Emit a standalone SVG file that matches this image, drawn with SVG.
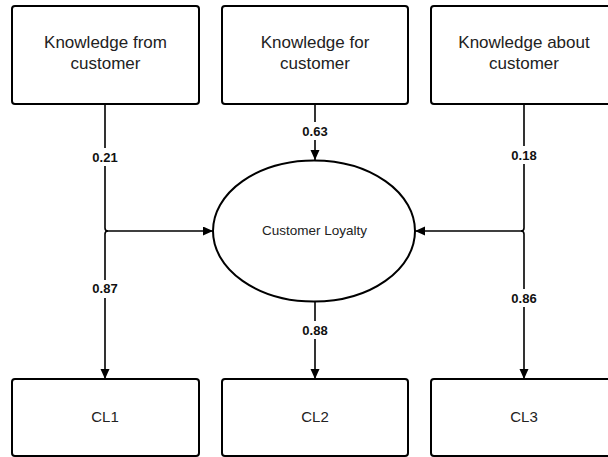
<svg xmlns="http://www.w3.org/2000/svg" width="608" height="457" viewBox="0 0 608 457">
  <style>
    .box { fill: #ffffff; stroke: #000000; stroke-width: 2; }
    .wire { fill: none; stroke: #000000; stroke-width: 1.6; }
    .title { font-family: "Liberation Sans", Arial, sans-serif; font-size: 17px; fill: #222222; text-anchor: middle; }
    .cl { font-family: "Liberation Sans", Arial, sans-serif; font-size: 15px; fill: #222222; text-anchor: middle; }
    .inner { font-family: "Liberation Sans", Arial, sans-serif; font-size: 13.5px; fill: #222222; text-anchor: middle; }
    .weight { font-family: "Liberation Sans", Arial, sans-serif; font-size: 13px; font-weight: bold; fill: #111111; text-anchor: middle; }
    .pad { fill: #ffffff; }
  </style>
  <defs>
    <marker id="arrow" markerUnits="userSpaceOnUse" markerWidth="11" markerHeight="10" refX="10" refY="4.5" orient="auto">
      <path d="M0,0 L10,4.5 L0,9 Z" fill="#000000"/>
    </marker>
  </defs>

  <rect width="608" height="457" fill="#ffffff"/>

  <!-- connectors -->
  <g id="connectors">
    <!-- left source: to ellipse and to CL1 -->
    <path class="wire" d="M105,104 V228 Q105,231 108,231 H213" marker-end="url(#arrow)"/>
    <path class="wire" d="M108,231 Q105,231 105,234 V379" marker-end="url(#arrow)"/>
    <!-- middle source to ellipse -->
    <path class="wire" d="M315,104 V160" marker-end="url(#arrow)"/>
    <!-- ellipse to CL2 -->
    <path class="wire" d="M315,302 V379" marker-end="url(#arrow)"/>
    <!-- right source: to ellipse and to CL3 -->
    <path class="wire" d="M524,104 V228 Q524,231 521,231 H415" marker-end="url(#arrow)"/>
    <path class="wire" d="M521,231 Q524,231 524,234 V379" marker-end="url(#arrow)"/>

    <!-- path weights -->
    <rect class="pad" x="90" y="148" width="30" height="18"/>
    <text class="weight" x="105" y="161.5">0.21</text>
    <rect class="pad" x="90" y="280" width="30" height="18"/>
    <text class="weight" x="105" y="293">0.87</text>
    <rect class="pad" x="300" y="122" width="30" height="18"/>
    <text class="weight" x="315" y="135.5">0.63</text>
    <rect class="pad" x="300" y="321" width="30" height="18"/>
    <text class="weight" x="315" y="334.5">0.88</text>
    <rect class="pad" x="509" y="146" width="30" height="18"/>
    <text class="weight" x="524" y="159.5">0.18</text>
    <rect class="pad" x="509" y="289" width="30" height="18"/>
    <text class="weight" x="524" y="302.5">0.86</text>
  </g>

  <g id="knowledge-from">
    <rect class="box" x="12" y="6" width="187" height="98" rx="3"/>
    <text class="title" x="105.5" y="48">Knowledge from</text>
    <text class="title" x="105.5" y="69">customer</text>
  </g>

  <g id="knowledge-for">
    <rect class="box" x="222" y="6" width="186" height="98" rx="3"/>
    <text class="title" x="315" y="48">Knowledge for</text>
    <text class="title" x="315" y="69">customer</text>
  </g>

  <g id="knowledge-about">
    <rect class="box" x="431" y="6" width="187" height="98" rx="3"/>
    <text class="title" x="524" y="48">Knowledge about</text>
    <text class="title" x="524" y="69">customer</text>
  </g>

  <g id="customer-loyalty">
    <ellipse class="box" cx="314" cy="231" rx="101" ry="70.5"/>
    <text class="inner" x="314.5" y="235">Customer Loyalty</text>
  </g>

  <g id="cl1">
    <rect class="box" x="12" y="379" width="187" height="77" rx="3"/>
    <text class="cl" x="105" y="422">CL1</text>
  </g>

  <g id="cl2">
    <rect class="box" x="222" y="379" width="186" height="77" rx="3"/>
    <text class="cl" x="315" y="422">CL2</text>
  </g>

  <g id="cl3">
    <rect class="box" x="431" y="379" width="187" height="77" rx="3"/>
    <text class="cl" x="524" y="422">CL3</text>
  </g>
</svg>
